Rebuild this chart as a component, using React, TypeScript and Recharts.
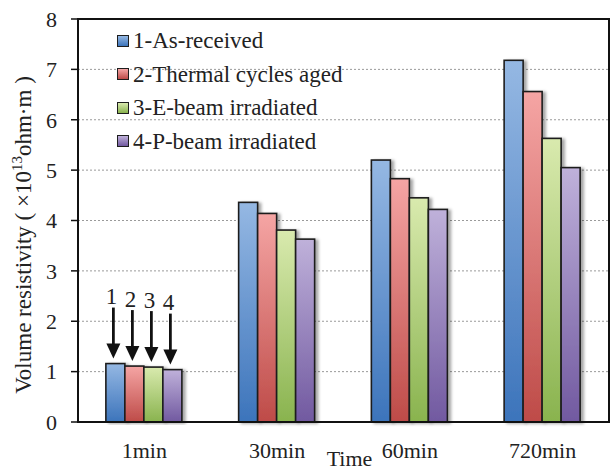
import React from "react";
import {
  BarChart,
  Bar,
  XAxis,
  YAxis,
  CartesianGrid,
  ReferenceArea,
  LabelList,
} from "recharts";

const categories = ["1min", "30min", "60min", "720min"];
const asReceived = [1.16, 4.36, 5.2, 7.18];
const thermalAged = [1.11, 4.14, 4.83, 6.56];
const eBeam = [1.09, 3.81, 4.45, 5.63];
const pBeam = [1.04, 3.63, 4.22, 5.05];
const yTicks = [0, 1, 2, 3, 4, 5, 6, 7, 8];

const seriesNames = [
  "1-As-received",
  "2-Thermal cycles aged",
  "3-E-beam irradiated",
  "4-P-beam irradiated",
];
const seriesKeys = ["s1", "s2", "s3", "s4"];
const arrowLabels = ["1", "2", "3", "4"];

const gradients = [
  { id: "gBlue", top: "#95b8e3", bottom: "#3c74bb" },
  { id: "gRed", top: "#f5a5a4", bottom: "#be4b48" },
  { id: "gGreen", top: "#d9eaae", bottom: "#89b34e" },
  { id: "gPurple", top: "#bfb1da", bottom: "#7159a0" },
];

const data = categories.map((c, i) => ({
  cat: c,
  s1: asReceived[i],
  s2: thermalAged[i],
  s3: eBeam[i],
  s4: pBeam[i],
}));

const FONT = '"Liberation Serif", "Times New Roman", serif';

const BarShape = (props: any) => {
  const { x, y, width, height, fill } = props;
  if (height <= 0) return null;
  return (
    <g>
      <rect
        x={x}
        y={y}
        width={width}
        height={height}
        fill={fill}
        stroke="#1e1e1e"
        strokeWidth={1.6}
        filter="url(#barShadow)"
      />
    </g>
  );
};

const makeArrow = (label: string) => (p: any) => {
  if (p.index !== 0) return null;
  const x = Number(p.x);
  const y = Number(p.y);
  const w = Number(p.width);
  const cx = x + w / 2 - 2;
  const tip = y - 5;
  return (
    <g>
      <line x1={cx} y1={tip - 51} x2={cx} y2={tip - 13} stroke="#111" strokeWidth={2.8} />
      <polygon
        points={`${cx - 7},${tip - 15} ${cx + 7},${tip - 15} ${cx},${tip}`}
        fill="#111"
      />
      <text
        x={cx - 2}
        y={tip - 62}
        textAnchor="middle"
        dominantBaseline="central"
        fontFamily={FONT}
        fontSize={23}
        fill="#222"
      >
        {label}
      </text>
    </g>
  );
};

const YLabel = () => (
  <text
    x={31}
    y={235}
    transform="rotate(-90, 31, 235)"
    textAnchor="middle"
    fontFamily={FONT}
    fontSize={23}
    fill="#222"
  >
    Volume resistivity ( ×10
    <tspan dy={-9} fontSize={15}>
      13
    </tspan>
    <tspan dy={9}>ohm·m )</tspan>
  </text>
);

const TimeLabel = (props: any) => {
  const vb = props.viewBox || {};
  const cx = (vb.x ?? 78) + (vb.width ?? 531) / 2 + 6;
  return (
    <text
      x={cx}
      y={466}
      textAnchor="middle"
      fontFamily={FONT}
      fontSize={22}
      fill="#222"
    >
      Time
    </text>
  );
};

export default function App() {
  return (
    <div style={{ position: "absolute", left: 0, top: 0, width: 613, height: 471, background: "#fff" }}>
      <BarChart
        width={613}
        height={471}
        data={data}
        margin={{ top: 19, right: 4, bottom: 0, left: 0 }}
        barCategoryGap="21%"
        barGap={0}
      >
        <defs>
          {gradients.map((g) => (
            <linearGradient key={g.id} id={g.id} x1="0" y1="0" x2="0" y2="1">
              <stop offset="0%" stopColor={g.top} />
              <stop offset="100%" stopColor={g.bottom} />
            </linearGradient>
          ))}
          <filter id="barShadow" x="-20%" y="-5%" width="160%" height="110%">
            <feDropShadow dx={3} dy={1} stdDeviation={1.8} floodColor="#000" floodOpacity={0.35} />
          </filter>
        </defs>
        <CartesianGrid vertical={false} stroke="#9a9a9a" strokeDasharray="2 2" strokeWidth={1} />
        <XAxis
          dataKey="cat"
          height={49}
          axisLine={{ stroke: "#111", strokeWidth: 2 }}
          tickLine={false}
          tickMargin={14}
          tick={{ fontFamily: FONT, fontSize: 22, fill: "#222" }}
          label={<TimeLabel />}
        />
        <YAxis
          width={78}
          domain={[0, 8]}
          ticks={yTicks}
          interval={0}
          axisLine={{ stroke: "#111", strokeWidth: 2 }}
          tickLine={{ stroke: "#111", strokeWidth: 1.5 }}
          tickSize={7}
          tickMargin={14}
          tick={{ fontFamily: FONT, fontSize: 22, fill: "#222" }}
          label={<YLabel />}
        />
        {seriesKeys.map((k, i) => (
          <Bar
            key={k}
            dataKey={k}
            name={seriesNames[i]}
            fill={`url(#${gradients[i].id})`}
            shape={BarShape}
            isAnimationActive={false}
          >
            <LabelList dataKey={k} content={makeArrow(arrowLabels[i])} />
          </Bar>
        ))}
        <ReferenceArea y1={0} y2={8} fill="none" fillOpacity={0} stroke="#111" strokeWidth={2} ifOverflow="visible" />
      </BarChart>
      <div
        style={{
          position: "absolute",
          left: 117,
          top: 24,
          fontFamily: FONT,
          fontSize: 23,
          color: "#222",
          lineHeight: "33.5px",
          pointerEvents: "none",
        }}
      >
        {seriesNames.map((n, i) => (
          <div key={n} style={{ display: "flex", alignItems: "center", height: 33.5, whiteSpace: "nowrap" }}>
            <span
              style={{
                display: "inline-block",
                width: 10,
                height: 10,
                border: "1.5px solid #1e1e1e",
                background: `linear-gradient(${gradients[i].top}, ${gradients[i].bottom})`,
                marginRight: 4,
                flex: "none",
              }}
            />
            <span>{n}</span>
          </div>
        ))}
      </div>
    </div>
  );
}
